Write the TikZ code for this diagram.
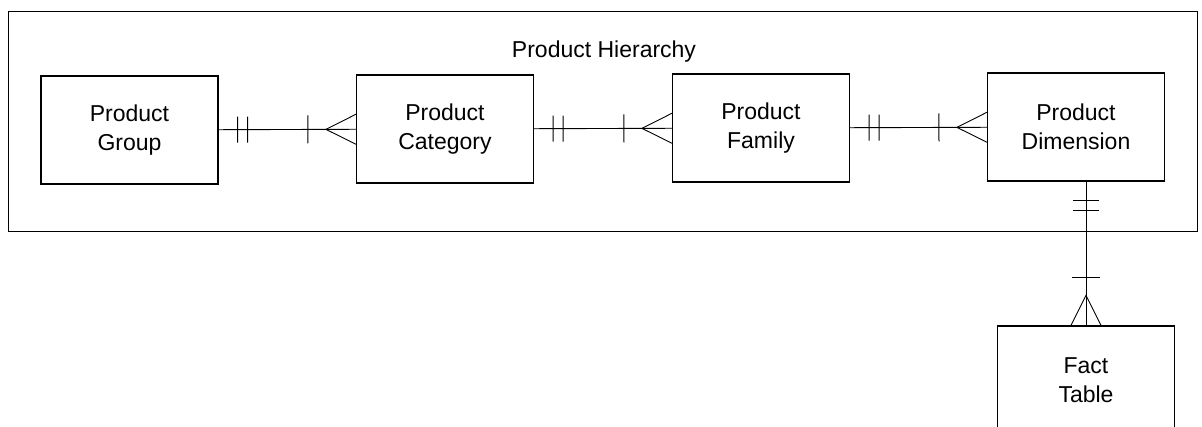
\documentclass[tikz,border=0pt]{standalone}
\usepackage{fontspec}
\setmainfont{Liberation Sans}
\usetikzlibrary{decorations.markings}

\begin{document}
\begin{tikzpicture}[x=1pt, y=-1pt,
	every node/.style={font=\fontsize{23}{29}\selectfont},
	entity/.style={draw, line width=1.1pt, minimum width=177pt, minimum height=108pt, align=center, inner sep=0pt},
	onemany/.style={line width=0.9pt, postaction={decorate}, decoration={markings,
		mark=at position 19pt with {\draw[line width=1pt] (0,-13pt) -- (0,13pt);},
		mark=at position 29pt with {\draw[line width=1pt] (0,-13pt) -- (0,13pt);},
		mark=at position -48pt with {\draw[line width=1pt] (0,-14pt) -- (0,14pt);},
		mark=at position -30pt with {\draw[line width=0.9pt] (30pt,-15pt) -- (0,0) -- (30pt,15pt);}}}]
	\useasboundingbox (0,0) rectangle (1202,427);
	\draw[line width=1pt] (8,12) rectangle (1197,232);
	\node (hier) at (604,52) {Product Hierarchy};
	\node[entity] (group) at (129.5,130) {Product\\Group};
	\node[entity] (category) at (445,129) {Product\\Category};
	\node[entity] (family) at (761,128) {Product\\Family};
	\node[entity] (dim) at (1076,127) {Product\\Dimension};
	\node[entity] (fact) at (1086,380) {Fact\\Table};
	\draw[onemany] (group) -- (category);
	\draw[onemany] (category) -- (family);
	\draw[onemany] (family) -- (dim);
	\draw[onemany] (fact.north |- dim.south) -- (fact.north);
\end{tikzpicture}
\end{document}
